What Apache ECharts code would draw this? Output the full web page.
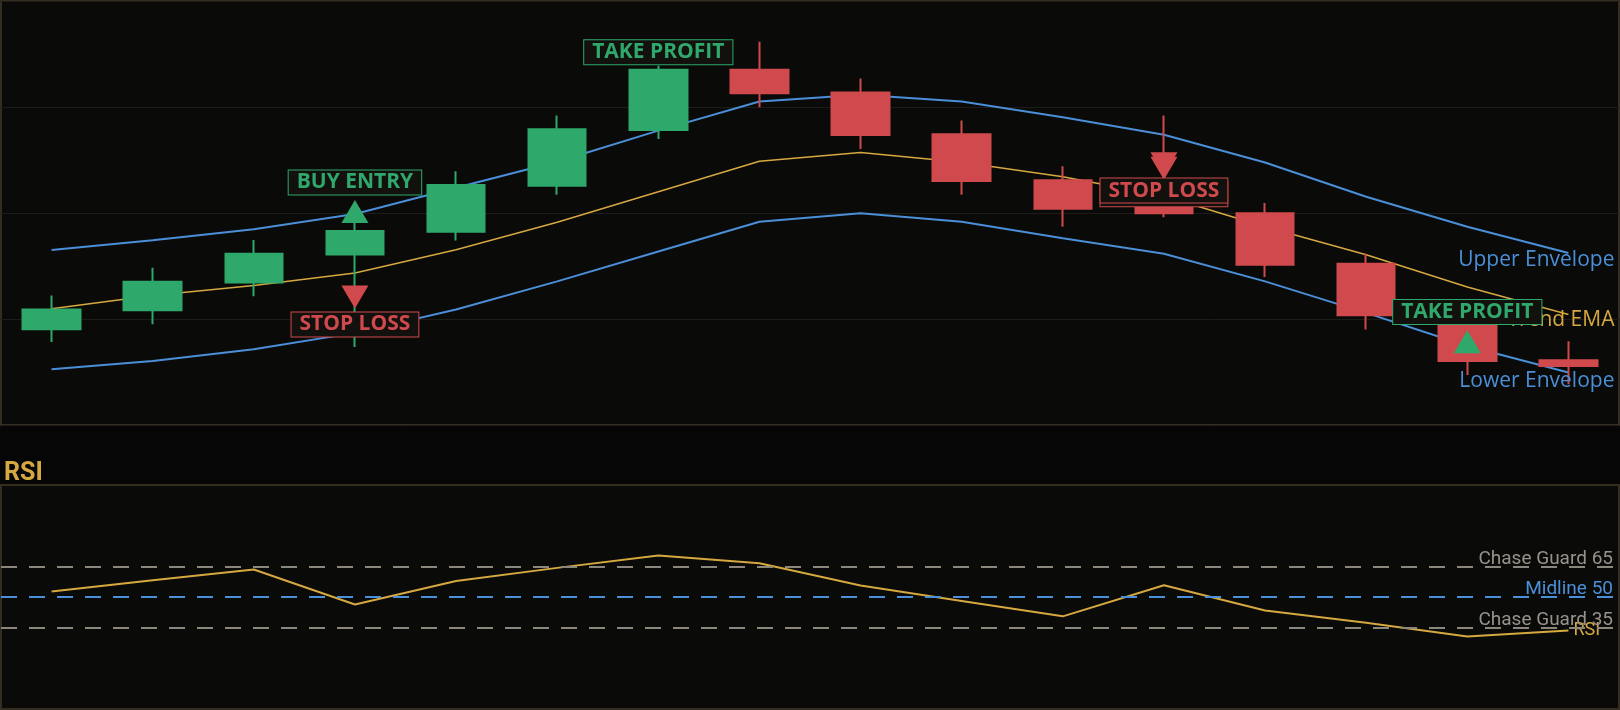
<!DOCTYPE html>
<html>
<head>
<meta charset="utf-8">
<script src="https://cdn.jsdelivr.net/npm/echarts@6/dist/echarts.min.js"></script>
<style>
  html, body { margin: 0; padding: 0; background: #060606; }
  #chart { width: 1620px; height: 710px; }
</style>
</head>
<body>
<div id="chart"></div>
<script>
// ---- Data ----
const categories = ['Bar 1','Bar 2','Bar 3','Bar 4','Bar 5','Bar 6','Bar 7','Bar 8','Bar 9','Bar 10','Bar 11','Bar 12','Bar 13','Bar 14','Bar 15','Bar 16'];
const opens  = [89.04, 90.83, 93.45, 96.08, 98.24, 102.56, 107.82, 113.52, 111.36, 107.42, 103.10, 100.66, 99.97, 95.21, 89.48, 86.10];
const closes = [90.89, 93.52, 96.15, 98.31, 102.63, 107.89, 113.52, 111.30, 107.35, 103.03, 100.40, 99.97, 95.12, 90.36, 86.04, 85.57];
const lows   = [87.82, 89.51, 92.14, 87.35, 97.40, 101.72, 106.98, 109.98, 106.04, 101.72, 98.71, 99.60, 93.96, 89.01, 84.72, 83.85];
const highs  = [92.21, 94.83, 97.46, 99.09, 103.94, 109.20, 113.90, 116.15, 112.68, 108.73, 104.41, 109.20, 100.94, 96.15, 89.95, 87.89];

const upperEnvelope = [96.50, 97.44, 98.47, 99.91, 102.38, 104.84, 107.77, 110.52, 111.15, 110.52, 109.04, 107.39, 104.76, 101.53, 98.71, 96.22];
const trendEMA      = [90.96, 92.21, 93.15, 94.34, 96.53, 99.13, 102.00, 104.88, 105.70, 104.79, 103.41, 101.60, 98.71, 96.06, 93.02, 90.42];
const lowerEnvelope = [85.26, 86.04, 87.14, 88.69, 90.89, 93.55, 96.37, 99.18, 99.97, 99.18, 97.62, 96.15, 93.55, 90.58, 87.45, 84.95];

const rsi = [52.7, 58.2, 63.5, 46.3, 57.9, 64.3, 70.4, 66.6, 55.6, 48.0, 40.5, 55.8, 43.4, 37.4, 30.6, 33.6];
const rsiLevels = [65, 50, 35];
const rsiLevelNames = ['Chase Guard 65', 'Midline 50', 'Chase Guard 35'];

// signals: [category index, price]
const upMarkers   = [[3, 100.14], [14, 87.86]];
const downMarkers = [[3, 92.08], [11, 104.23], [11, 104.64]];
const greenLabelText = ['BUY ENTRY', 'TAKE PROFIT', 'TAKE PROFIT'];
const greenLabelPos  = [[3, 102.88], [6, 115.17], [14, 90.66]];
const redLabelText   = ['STOP LOSS', 'STOP LOSS', 'STOP LOSS'];
const redLabelPos    = [[3, 89.48], [11, 101.76], [11, 102.12]];

// ---- Style ----
const GREEN = '#2ea86b', RED = '#d04a4d', BLUE = '#4a8fd8', GOLD = '#d6a840', GREYL = '#8c877c';
const FONT = '"Open Sans", "Noto Sans", sans-serif';
const NARROW = '"Liberation Sans Narrow", "Roboto", sans-serif';

const candleData = opens.map((o, i) => [o, closes[i], lows[i], highs[i]]);
const lastIdx = categories.length - 1;

function labelSeries(texts, pos, color) {
  return {
    type: 'scatter', xAxisIndex: 0, yAxisIndex: 0, z: 6,
    symbolSize: 0.1, itemStyle: { color: color, opacity: 1 },
    data: pos.map((p, i) => ({ value: p, name: texts[i] })),
    label: {
      show: true, position: 'inside', formatter: '{b}', opacity: 1,
      color: color, fontFamily: FONT, fontWeight: 'bold', fontSize: 21, lineHeight: 22,
      backgroundColor: '#12110e', borderColor: color, borderWidth: 1, padding: [2, 8, 0, 8]
    },
    emphasis: { disabled: true }
  };
}

function envLine(name, data, color, width, dy) {
  return {
    name: name, type: 'line', data: data, xAxisIndex: 0, yAxisIndex: 0, z: 2,
    symbol: 'none', smooth: false,
    lineStyle: { color: color, width: width },
    itemStyle: { color: color },
    markPoint: {
      silent: true, symbol: 'circle', symbolSize: 0.1, animation: false,
      itemStyle: { color: 'rgba(0,0,0,0)' },
      data: [{ coord: [lastIdx, data[lastIdx]], name: name }],
      label: {
        show: true, position: 'inside', formatter: '{b}', color: color, fontFamily: FONT, fontSize: 21,
        align: 'right', verticalAlign: 'middle', offset: [46, dy]
      }
    },
    emphasis: { disabled: true }
  };
}

const chart = echarts.init(document.getElementById('chart'), null, { renderer: 'canvas' });
chart.setOption({
  backgroundColor: '#060606',
  animation: false,
  title: {
    text: 'RSI', left: -1, top: 456,
    textStyle: { color: GOLD, fontFamily: NARROW, fontWeight: 'bold', fontSize: 25 }
  },
  grid: [
    { left: 1, right: 1, top: 1, height: 424, show: true, backgroundColor: '#0a0a09', borderColor: '#332d22', borderWidth: 2 },
    { left: 1, right: 1, top: 485, height: 224, show: true, backgroundColor: '#0a0a09', borderColor: '#332d22', borderWidth: 2 }
  ],
  xAxis: [
    { type: 'category', data: categories, gridIndex: 0, boundaryGap: true,
      axisLine: { show: false }, axisTick: { show: false }, axisLabel: { show: false }, splitLine: { show: false } },
    { type: 'category', data: categories, gridIndex: 1, boundaryGap: true,
      axisLine: { show: false }, axisTick: { show: false }, axisLabel: { show: false }, splitLine: { show: false } }
  ],
  yAxis: [
    { type: 'value', gridIndex: 0, min: 80, max: 120, interval: 10,
      axisLine: { show: false }, axisTick: { show: false }, axisLabel: { show: false },
      splitLine: { show: true, lineStyle: { color: '#1d1c19', width: 1 } } },
    { type: 'value', gridIndex: 1, min: -5, max: 105, interval: 5,
      axisLine: { show: false }, axisTick: { show: false }, axisLabel: { show: false }, splitLine: { show: false } }
  ],
  series: [
    envLine('Upper Envelope', upperEnvelope, BLUE, 2, 7),
    envLine('Trend EMA', trendEMA, GOLD, 1.5, 5),
    envLine('Lower Envelope', lowerEnvelope, BLUE, 2, 8),
    {
      name: 'Price', type: 'candlestick', data: candleData, xAxisIndex: 0, yAxisIndex: 0, z: 3,
      barWidth: 58,
      itemStyle: { color: GREEN, color0: RED, borderColor: GREEN, borderColor0: RED, borderWidth: 2 },
      emphasis: { disabled: true }
    },
    {
      type: 'scatter', data: upMarkers, symbol: 'triangle', symbolSize: [27, 23], z: 5,
      itemStyle: { color: GREEN, opacity: 1 }, emphasis: { disabled: true }
    },
    {
      type: 'scatter', data: downMarkers, symbol: 'triangle', symbolRotate: 180, symbolSize: [27, 23], z: 5,
      itemStyle: { color: RED, opacity: 1 }, emphasis: { disabled: true }
    },
    labelSeries(greenLabelText, greenLabelPos, GREEN),
    labelSeries(redLabelText, redLabelPos, RED),
    {
      name: 'RSI', type: 'line', data: rsi, xAxisIndex: 1, yAxisIndex: 1, z: 3,
      symbol: 'none', lineStyle: { color: GOLD, width: 2 }, itemStyle: { color: GOLD },
      endLabel: { show: true, formatter: '{a}', color: GOLD, fontFamily: NARROW, fontSize: 18, distance: 5 },
      markLine: {
        silent: true, symbol: 'none', animation: false,
        data: rsiLevels.map((lv, i) => {
          const c = lv === 50 ? BLUE : GREYL;
          return {
            yAxis: lv, name: rsiLevelNames[i],
            lineStyle: { color: c, width: 2, type: [16, 12] },
            label: { show: true, position: 'insideEndTop', formatter: '{b}', color: lv === 50 ? BLUE : '#98938a',
                     fontFamily: NARROW, fontSize: 19, distance: [6, -2] }
          };
        })
      },
      emphasis: { disabled: true }
    }
  ]
});
</script>
</body>
</html>
